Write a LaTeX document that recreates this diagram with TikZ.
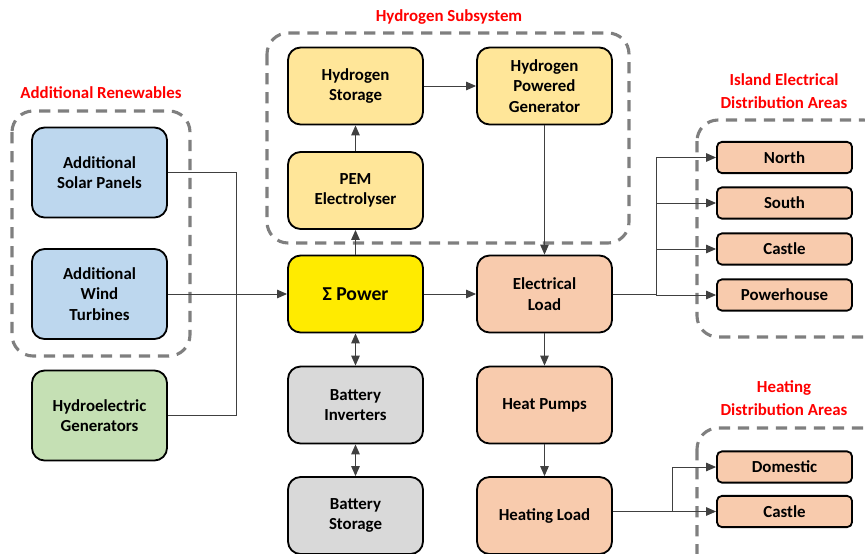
\documentclass[tikz,border=0pt]{standalone}
\usepackage{fontspec}
\setmainfont{Carlito}
\usepackage{tikz}
\usetikzlibrary{positioning, arrows.meta, calc}
\definecolor{ren-blue}{HTML}{BDD7EE}
\definecolor{hyd-green}{HTML}{C5E0B4}
\definecolor{h2-yellow}{HTML}{FFE699}
\definecolor{sum-yellow}{HTML}{FFEB00}
\definecolor{load-peach}{HTML}{F8CBAD}
\definecolor{batt-gray}{HTML}{D9D9D9}
\definecolor{frame-gray}{HTML}{7F7F7F}
\definecolor{title-red}{HTML}{FF0000}
\definecolor{wire}{HTML}{404040}

\tikzset{
    block/.style={draw=black, line width=1.3pt, rounded corners=9pt, align=center,
        minimum width=3.375cm, minimum height=1.925cm, font=\fontsize{12}{14.5}\selectfont\bfseries},
    source/.style={block, minimum height=2.25cm},
    area/.style={draw=black, line width=1.3pt, rounded corners=3.5pt, fill=load-peach,
        minimum width=3.375cm, minimum height=0.78cm, font=\fontsize{12}{14}\selectfont\bfseries},
    group/.style={draw=frame-gray, line width=2.2pt, dash pattern=on 8pt off 5.5pt, rounded corners=15pt},
    grouptitle/.style={text=title-red, align=center, font=\fontsize{12}{16}\selectfont\bfseries},
    wire/.style={draw=wire, line width=0.7pt},
    flow/.style={wire, -{Triangle[length=7pt, width=6pt]}},
    twoway/.style={wire, {Triangle[length=7pt, width=6pt]}-{Triangle[length=7pt, width=6pt]}}
}

\begin{document}
\begin{tikzpicture}[x=0.025cm, y=-0.025cm]
    \useasboundingbox (0,0) rectangle (865,553);

    % dashed groups
    \draw[group] (12,111) rectangle (190,356);
    \draw[group] (267,33) rectangle (629,243);
    \draw[group] (697,120) rectangle (885,337);
    \draw[group] (697,428) rectangle (885,575);

    \node[grouptitle] (t-ren) at (101,93) {Additional Renewables};
    \node[grouptitle] (t-hyd) at (449,17) {Hydrogen Subsystem};
    \node[grouptitle] (t-isl) at (784,91) {Island Electrical\\Distribution Areas};
    \node[grouptitle] (t-heat) at (784,398) {Heating\\Distribution Areas};

    % sources
    \node[source, fill=ren-blue] (solar) at (99.5,172.5) {Additional\\Solar Panels};
    \node[source, fill=ren-blue] (wind) at (99.5,294) {Additional\\Wind\\Turbines};
    \node[source, fill=hyd-green] (hydro) at (99.5,415.5) {Hydroelectric\\Generators};

    % centre column
    \node[block, fill=h2-yellow] (h2store) at (355.5,86) {Hydrogen\\Storage};
    \node[block, fill=h2-yellow] (pem) at (355.5,190.5) {PEM\\Electrolyser};
    \node[block, fill=sum-yellow, font=\fontsize{14}{16}\selectfont\bfseries] (power) at (355.5,294) {Σ Power};
    \node[block, fill=batt-gray] (inv) at (355.5,405) {Battery\\Inverters};
    \node[block, fill=batt-gray] (bstore) at (355.5,515.5) {Battery\\Storage};

    % loads
    \node[block, fill=h2-yellow] (h2gen) at (544.5,86) {Hydrogen\\Powered\\Generator};
    \node[block, fill=load-peach] (elec) at (544.5,294) {Electrical\\Load};
    \node[block, fill=load-peach] (hpump) at (544.5,405) {Heat Pumps};
    \node[block, fill=load-peach] (heat) at (544.5,515.5) {Heating Load};

    % distribution areas
    \foreach \n/\y/\t in {north/157.5/North, south/203/South, castle/249/Castle, phouse/295/Powerhouse, domestic/467/Domestic, hcastle/511.5/Castle}
        \node[area] (\n) at (784.5,\y) {\t};

    % connectors
    \coordinate (rbus) at (236,172.5);
    \draw[wire] (solar.east) -- (rbus) |- (hydro.east);
    \draw[flow] (wind.east) -- (power.west);
    \draw[flow] (power.north) -- (pem.south);
    \draw[flow] (pem.north) -- (h2store.south);
    \draw[flow] (h2store.east) -- (h2gen.west);
    \draw[flow] (h2gen.south) -- (elec.north);
    \draw[flow] (power.east) -- (elec.west);
    \draw[twoway] (power.south) -- (inv.north);
    \draw[twoway] (inv.south) -- (bstore.north);
    \draw[flow] (elec.south) -- (hpump.north);
    \draw[flow] (hpump.south) -- (heat.north);

    \coordinate (ebus) at (656,294);
    \draw[wire] (elec.east |- ebus) -- (ebus);
    \foreach \n in {north, south, castle, phouse}
        \draw[flow] (ebus) |- (\n.west);

    \coordinate (hbus) at (672,511.5);
    \draw[wire] (heat.east |- hbus) -- (hbus);
    \foreach \n in {domestic, hcastle}
        \draw[flow] (hbus) |- (\n.west);
\end{tikzpicture}
\end{document}
